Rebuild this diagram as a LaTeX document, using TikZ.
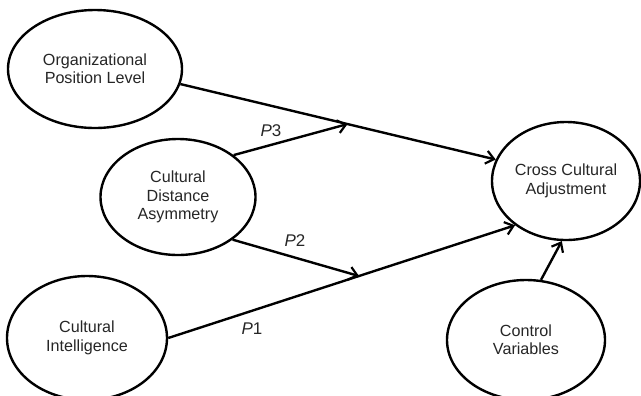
\documentclass[tikz,border=0pt]{standalone}
\usepackage{fontspec}
\setmainfont{Liberation Sans}
\usepackage{tikz}
\usetikzlibrary{
  arrows.meta,
  positioning,
  calc,
  shapes.geometric
}
\tikzset{
  construct/.style={ellipse, draw=black, line width=2.4bp, fill=white,
    inner sep=0pt, align=center, text=black!85,
    font=\fontsize{16.2}{18.5}\selectfont},
  link/.style={line width=2.4bp, -{Straight Barb[length=8bp,width=13bp,line width=2.2bp]}},
  plabel/.style={text=black!85, font=\fontsize{17}{19}\selectfont}
}

\begin{document}
\begin{tikzpicture}[x=1bp, y=-1bp]
\useasboundingbox (0,0) rectangle (641,395);

% constructs
\node[construct, minimum width=174bp, minimum height=118bp] (org) at (95,69)
  {Organizational\\Position Level};
\node[construct, minimum width=155bp, minimum height=116bp] (cda) at (178,197)
  {Cultural\\Distance\\Asymmetry};
\node[construct, minimum width=160bp, minimum height=124bp] (ci) at (87,338)
  {Cultural\\Intelligence};
\node[construct, minimum width=148bp, minimum height=118bp] (cca) at (566,181)
  {Cross Cultural\\Adjustment};
\node[construct, minimum width=158bp, minimum height=120bp] (ctl) at (526,340)
  {Control\\Variables};

% direct paths
\draw[link] (org.-10) -- (cca.163) coordinate[pos=0.53] (m3);
\draw[link] (ci.east) -- (cca.221) coordinate[pos=0.55] (m2);
\draw[link] (ctl.76) -- (cca.266);

% moderating paths
\draw[link] (cda.37) -- (m3);
\draw[link] (cda.-38) -- (m2);

% labels
\node[plabel] (p3) at (271,131) {\textit{P}3};
\node[plabel] (p2) at (295,241) {\textit{P}2};
\node[plabel] (p1) at (252,329) {\textit{P}1};
\end{tikzpicture}
\end{document}
